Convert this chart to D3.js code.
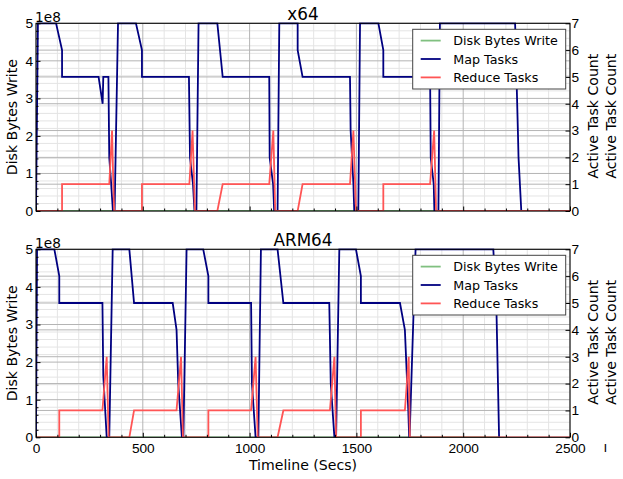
<!DOCTYPE html>
<html>
<head>
<meta charset="utf-8">
<script src="https://cdn.jsdelivr.net/npm/d3@7"></script>
<style>
  body { margin: 0; background: #fff; }
  svg { display: block; font-family: "DejaVu Sans", sans-serif; }
</style>
</head>
<body>
<script>
// [time (secs), value] pairs
const x64Disk = [[0, 0], [2272, 0]];
const x64Map = [
  [0, 0], [9, 7], [94, 7], [122, 6], [122, 5], [293, 5], [312, 4], [315, 5], [339, 5],
  [343, 2], [352, 1], [360, 0], [368, 0], [384, 7], [468, 7], [496, 6], [496, 5],
  [716, 5], [721, 2], [735, 1], [742, 0], [751, 0], [761, 7], [849, 7], [874, 5],
  [1092, 5], [1094, 2], [1110, 1], [1115, 0], [1131, 0], [1139, 7], [1225, 7], [1225, 6],
  [1248, 5], [1470, 5], [1473, 3], [1486, 1], [1490, 0], [1509, 0], [1517, 7], [1603, 7],
  [1626, 6], [1626, 5], [1845, 5], [1848, 2], [1862, 1], [1865, 0], [1884, 0], [1891, 7],
  [2243, 7], [2256, 3], [2259, 2], [2272, 0]
];
const x64Reduce = [
  [0, 0], [122, 0], [122, 1], [343, 1], [356, 3], [362, 1], [366, 0], [496, 0], [496, 1],
  [718, 1], [733, 3], [744, 0], [849, 0], [874, 1], [1092, 1], [1111, 3], [1120, 0],
  [1225, 0], [1248, 1], [1470, 1], [1486, 3], [1498, 0], [1626, 0], [1626, 1], [1845, 1],
  [1864, 3], [1873, 0], [2500, 0]
];

const armDisk = [[0, 0], [2168, 0]];
const armMap = [
  [0, 0], [5, 7], [86, 7], [109, 6], [109, 5], [311, 5], [315, 2.3], [331, 0], [343, 0],
  [359, 7], [437, 7], [459, 5], [640, 5], [658, 4], [666, 2], [683, 0], [690, 0], [705, 7],
  [783, 7], [807, 6], [807, 5], [1007, 5], [1011, 2], [1028, 0], [1041, 0], [1053, 7],
  [1131, 7], [1158, 5], [1373, 5], [1380, 2], [1397, 0], [1405, 0], [1420, 7], [1498, 7],
  [1521, 6], [1521, 5], [1704, 5], [1727, 4], [1743, 1], [1747, 0], [1749, 0], [1777, 7],
  [2141, 7], [2155, 5], [2168, 0]
];
const armReduce = [
  [0, 0], [109, 0], [109, 1], [311, 1], [331, 3], [340, 0], [437, 0], [459, 1], [658, 1],
  [679, 3], [688, 0], [807, 0], [807, 1], [1007, 1], [1028, 3], [1038, 0], [1131, 0],
  [1158, 1], [1376, 1], [1397, 3], [1405, 0], [1521, 0], [1521, 1], [1727, 1], [1745, 3],
  [1750, 0], [2500, 0]
];

const xTicks = [0, 500, 1000, 1500, 2000, 2500];
const leftTicks = [0, 1e8, 2e8, 3e8, 4e8, 5e8];
const rightTicks = [0, 1, 2, 3, 4, 5, 6, 7];
const legendLabels = ["Disk Bytes Write", "Map Tasks", "Reduce Tasks"];
const colors = { disk: "#80c080", map: "#000080", reduce: "#ff5555" };

const width = 623, height = 479;
const left = 36, right = 570;

const svg = d3.select("body").append("svg")
  .attr("width", width)
  .attr("height", height);

const x = d3.scaleLinear().domain([0, 2500]).range([left, right]);

const panels = [
  { title: "x64", top: 23.3, bottom: 211, disk: x64Disk, map: x64Map, reduce: x64Reduce, labels: false },
  { title: "ARM64", top: 249.3, bottom: 437.3, disk: armDisk, map: armMap, reduce: armReduce, labels: true }
];

panels.forEach((p, i) => {
  const yL = d3.scaleLinear().domain([0, 5e8]).range([p.bottom, p.top]);
  const yR = d3.scaleLinear().domain([0, 7]).range([p.bottom, p.top]);
  const g = svg.append("g");

  // grid: minor first, then major
  const grid = g.append("g").attr("stroke-width", 1).attr("fill", "none");
  const xMinor = d3.range(0, 2501, 100).filter((d) => d % 500 !== 0);
  const yMinor = d3.range(0, 51, 2).map((d) => d * 1e7).filter((d) => d % 1e8 !== 0);
  grid.selectAll(".xm").data(xMinor).join("line")
    .attr("x1", x).attr("x2", x).attr("y1", p.top).attr("y2", p.bottom).attr("stroke", "#e4e4e4");
  grid.selectAll(".ym").data(yMinor).join("line")
    .attr("x1", left).attr("x2", right).attr("y1", yL).attr("y2", yL).attr("stroke", "#e4e4e4");
  grid.selectAll(".xM").data(xTicks).join("line")
    .attr("x1", x).attr("x2", x).attr("y1", p.top).attr("y2", p.bottom).attr("stroke", "#b4b4b4");
  grid.selectAll(".yM").data(leftTicks).join("line")
    .attr("x1", left).attr("x2", right).attr("y1", yL).attr("y2", yL).attr("stroke", "#b4b4b4");
  grid.selectAll(".yR").data(rightTicks).join("line")
    .attr("x1", left).attr("x2", right).attr("y1", yR).attr("y2", yR).attr("stroke", "#b4b4b4");

  // lines
  const clipId = "clip" + i;
  svg.append("clipPath").attr("id", clipId).append("rect")
    .attr("x", left).attr("y", p.top - 1).attr("width", right - left).attr("height", p.bottom - p.top + 1);
  const lines = g.append("g").attr("clip-path", `url(#${clipId})`).attr("fill", "none").attr("stroke-width", 1.8);
  lines.append("path").attr("stroke", colors.disk)
    .attr("d", d3.line().x((d) => x(d[0])).y((d) => yL(d[1]))(p.disk));
  const lineR = d3.line().x((d) => x(d[0])).y((d) => yR(d[1]));
  lines.append("path").attr("stroke", colors.map).attr("d", lineR(p.map));
  lines.append("path").attr("stroke", colors.reduce).attr("d", lineR(p.reduce));

  // axes
  g.append("g").attr("transform", `translate(${left},0)`)
    .call(d3.axisLeft(yL).tickValues(leftTicks).tickFormat((d) => d / 1e8).tickSize(-4.5).tickPadding(3));
  g.append("g").attr("transform", `translate(${left},0)`)
    .call(d3.axisLeft(yL).tickValues(yMinor).tickFormat("").tickSize(-2.5));
  g.append("g").attr("transform", `translate(${right},0)`)
    .call(d3.axisRight(yR).tickValues(rightTicks).tickFormat(d3.format("d")).tickSize(-4.5).tickPadding(1.5));
  g.append("g").attr("transform", `translate(0,${p.bottom})`)
    .call(d3.axisBottom(x).tickValues(xTicks).tickFormat(p.labels ? d3.format("d") : "").tickSize(-4.5).tickPadding(6.3));
  g.append("g").attr("transform", `translate(0,${p.bottom})`)
    .call(d3.axisBottom(x).tickValues(xMinor).tickFormat("").tickSize(-2.5));

  g.selectAll(".domain").remove();
  g.selectAll(".tick text").attr("font-family", null).attr("font-size", 13.7).attr("fill", "#000");
  g.selectAll(".tick line").attr("stroke", "#000");

  g.append("rect")
    .attr("x", left).attr("y", p.top).attr("width", right - left).attr("height", p.bottom - p.top)
    .attr("fill", "none").attr("stroke", "#000").attr("stroke-width", 1);

  // offset text and titles
  g.append("text").attr("x", 35).attr("y", p.top - 1.6).attr("font-size", 13.7).text("1e8");
  g.append("text").attr("x", (left + right) / 2).attr("y", p.top - 3.8)
    .attr("text-anchor", "middle").attr("font-size", 16.8).text(p.title);

  const midY = (p.top + p.bottom) / 2;
  g.append("text").attr("transform", `translate(17.3,${midY}) rotate(-90)`)
    .attr("text-anchor", "middle").attr("font-size", 14.1).text("Disk Bytes Write");
  [597.7, 615.5].forEach((bx) => {
    g.append("text").attr("transform", `translate(${bx},${midY - 1}) rotate(-90)`)
      .attr("text-anchor", "middle").attr("font-size", 14.1).text("Active Task Count");
  });

  // legend
  const lg = g.append("g").attr("transform", `translate(412.7,${p.top + 6})`);
  lg.append("rect").attr("width", 153).attr("height", 59.7)
    .attr("fill", "#fff").attr("stroke", "#444").attr("stroke-width", 1);
  const legendColors = [colors.disk, colors.map, colors.reduce];
  legendLabels.forEach((label, k) => {
    const cy = 11.3 + k * 18.4;
    lg.append("line").attr("x1", 8).attr("x2", 28).attr("y1", cy).attr("y2", cy)
      .attr("stroke", legendColors[k]).attr("stroke-width", 1.8);
    lg.append("text").attr("x", 40.6).attr("y", cy + 4.6).attr("font-size", 12.7).text(label);
  });
});

svg.append("text").attr("x", (left + right) / 2).attr("y", 469.8)
  .attr("text-anchor", "middle").attr("font-size", 14.1).text("Timeline (Secs)");
svg.append("text").attr("x", 603.5).attr("y", 452).attr("font-size", 13.7).text("ı");
</script>
</body>
</html>
